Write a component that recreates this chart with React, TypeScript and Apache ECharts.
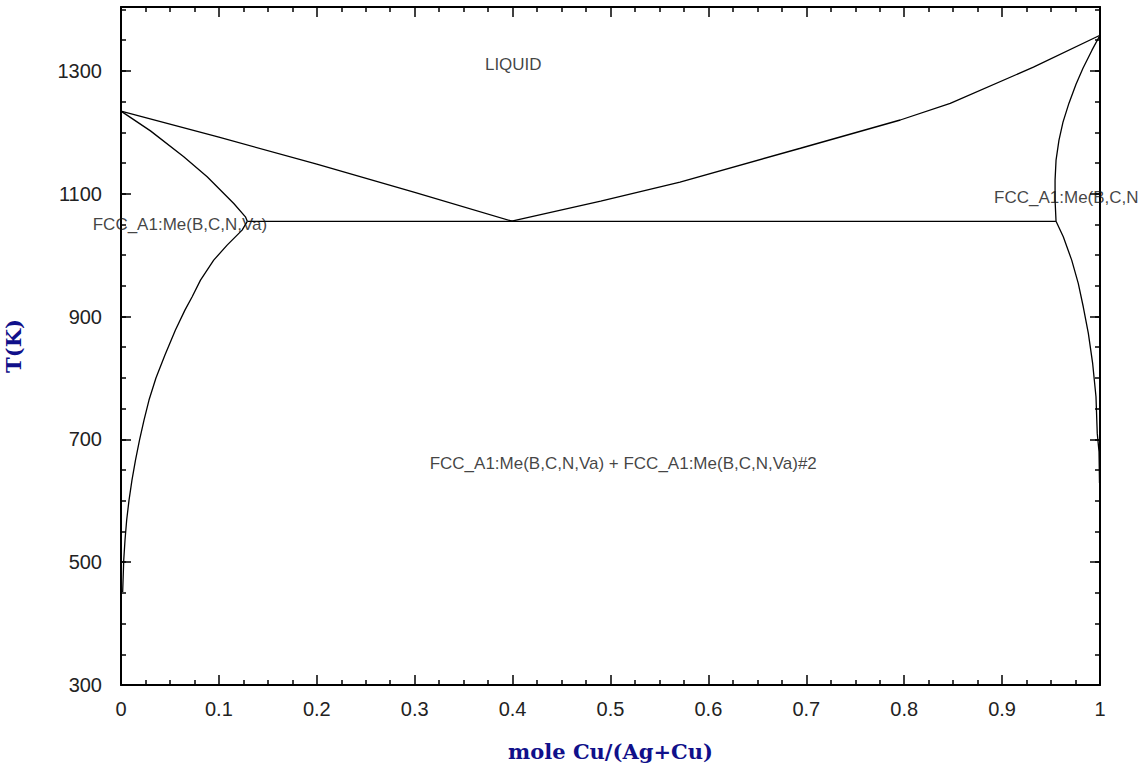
import React, { useEffect, useRef } from 'react';
import * as echarts from 'echarts';

// Phase boundaries: [mole fraction Cu, T(K)]
const liquidusLeft = [[0, 1234.5], [0.1, 1192], [0.2, 1148], [0.3, 1102], [0.4, 1055]];
const liquidusRight = [[0.398, 1055], [0.49, 1088], [0.571, 1119], [0.694, 1174], [0.796, 1220], [0.847, 1247], [0.932, 1306], [1, 1358]];
const solidusLeft = [[0, 1234.5], [0.0301, 1202.3], [0.0641, 1160], [0.088, 1127.5], [0.1152, 1084.1], [0.1271, 1062.3], [0.129, 1055]];
const solvusLeft = [[0.129, 1055], [0.1237, 1040.7], [0.1084, 1016.3], [0.0947, 991.8], [0.0812, 959.3], [0.0727, 932.1], [0.0653, 910.4], [0.0556, 877.9], [0.0449, 837.2], [0.0357, 799.8], [0.0286, 764], [0.0235, 731.4], [0.0189, 698.8], [0.0148, 666.3], [0.0112, 633.7], [0.0082, 601.1], [0.0058, 568.6], [0.0041, 536], [0.0028, 503.5], [0.0017, 451.4]];
const solidusRight = [[1, 1358.1], [0.9918, 1333.7], [0.9826, 1304.4], [0.9755, 1278.3], [0.9683, 1247.4], [0.9622, 1216.5], [0.9581, 1187.2], [0.9551, 1154.6], [0.9541, 1122.1], [0.9541, 1089.5], [0.9551, 1055]];
const solvusRight = [[0.9551, 1055], [0.9625, 1029.8], [0.9711, 991.8], [0.9778, 953.9], [0.9829, 915.9], [0.9881, 872.5], [0.9925, 823.6], [0.9959, 769.3], [0.9972, 709.7], [0.999, 680], [0.9995, 629]];
const eutectic = [[0.129, 1055], [0.955, 1055]];

// Region labels
const labelTexts = ['LIQUID', 'FCC_A1:Me(B,C,N,Va)', 'FCC_A1:Me(B,C,N', 'FCC_A1:Me(B,C,N,Va) + FCC_A1:Me(B,C,N,Va)#2'];
const labelX = [0.4007, 0.0602, 0.8918, 0.513];
const labelT = [1311, 1050, 1094, 661];
const labelAlign = ['center', 'center', 'left', 'center'];

// Axis ticks
const yMajorTicks = [300, 500, 700, 900, 1100, 1300];
const yMinorTicks = [300, 350, 400, 450, 500, 550, 600, 650, 700, 750, 800, 850, 900, 950, 1000, 1050, 1100, 1150, 1200, 1250, 1300, 1350, 1400];
const yMin = 300;
const yMax = 1404;
const xMin = 0;
const xMax = 1;
const xInterval = 0.1;

export default function App() {
  const ref = useRef<HTMLDivElement>(null);
  useEffect(() => {
    if (!ref.current) return;
    const chart = echarts.init(ref.current, null, { renderer: 'svg' });
    const lineC = '#000';
    const tickStyle = { color: lineC, width: 1.5 };
    const axisLineStyle = { color: lineC, width: 2 };
    const labelFont = { fontSize: 20, color: '#222', fontFamily: '"Liberation Sans", Arial, sans-serif' };
    const nameFont = { fontSize: 21, fontWeight: 'bold', color: '#10108a', fontFamily: '"DejaVu Serif", serif' };

    const mkX = (pos: string, labels: boolean) => ({
      type: 'value', position: pos, min: xMin, max: xMax, interval: xInterval,
      axisLine: { show: true, onZero: false, lineStyle: axisLineStyle },
      axisTick: { show: true, inside: true, length: 10, lineStyle: tickStyle },
      minorTick: { show: true, splitNumber: 4, length: 5, lineStyle: tickStyle },
      splitLine: { show: false }, minorSplitLine: { show: false },
      axisLabel: labels ? { show: true, margin: 14, formatter: (v: number) => String(Math.round(v * 10) / 10), ...labelFont } : { show: false },
      ...(labels ? { name: 'mole Cu/(Ag+Cu)', nameLocation: 'middle', nameGap: 56, nameTextStyle: nameFont } : {}),
    });
    const mkY = (pos: string, major: boolean, labels: boolean) => ({
      type: 'value', position: pos, min: yMin, max: yMax, offset: 0,
      axisLine: { show: major, onZero: false, lineStyle: axisLineStyle },
      axisTick: { show: true, inside: true, length: major ? 10 : 5, customValues: major ? yMajorTicks : yMinorTicks, lineStyle: tickStyle },
      splitLine: { show: false },
      axisLabel: labels ? { show: true, margin: 19, customValues: yMajorTicks, formatter: (v: number) => String(v), ...labelFont } : { show: false },
      ...(labels ? { name: 'T(K)', nameLocation: 'middle', nameGap: 97, nameTextStyle: nameFont } : {}),
    });

    const curves = [liquidusLeft, liquidusRight, solidusLeft, solvusLeft, solidusRight, solvusRight, eutectic];
    const series: any[] = curves.map((d) => ({
      type: 'line', data: d, xAxisIndex: 0, yAxisIndex: 0, showSymbol: false, symbol: 'none',
      lineStyle: { color: lineC, width: 1.3 }, silent: true, clip: false,
    }));
    series.push({
      type: 'scatter', xAxisIndex: 0, yAxisIndex: 0, symbolSize: 0, silent: true, clip: false, z: 10,
      data: labelTexts.map((t, i) => ({
        name: t, value: [labelX[i], labelT[i]],
        label: { align: labelAlign[i] },
      })),
      label: {
        show: true, position: 'inside', formatter: (p: any) => p.name,
        fontSize: 17, color: '#111', fontFamily: '"Liberation Sans", Arial, sans-serif',
      },
    });

    chart.setOption({
      animation: false,
      backgroundColor: '#fff',
      grid: { left: 121, right: 43, top: 7, bottom: 87, containLabel: false, outerBoundsMode: 'none' },
      xAxis: [mkX('bottom', true), mkX('top', false)],
      yAxis: [mkY('left', true, true), mkY('left', false, false), mkY('right', true, false), mkY('right', false, false)],
      series,
    });
    return () => chart.dispose();
  }, []);
  return <div ref={ref} style={{ position: 'fixed', left: 0, top: 0, width: 1143, height: 772 }} />;
}
